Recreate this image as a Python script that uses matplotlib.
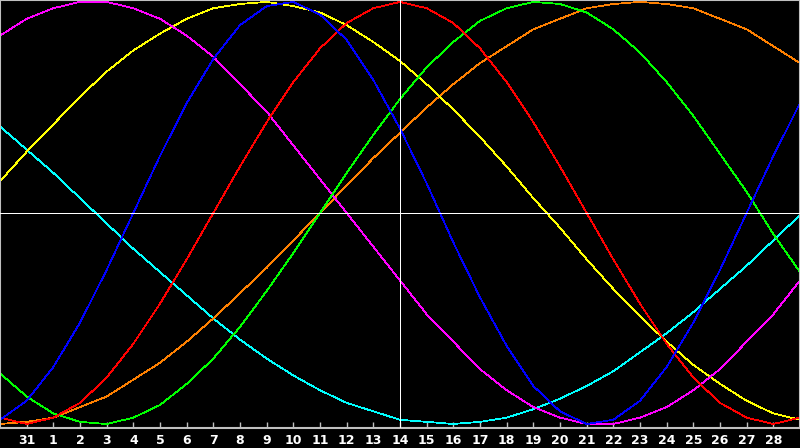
import matplotlib
matplotlib.use("Agg")
import matplotlib.pyplot as plt

# day labels (index 1..29); index 0 and 30 are the edges
day_labels = ["31"] + [str(d) for d in range(1, 29)]
days = list(range(31))
today_index = 15

blue = [-98, -89, -73, -52, -27, 0, 27, 52, 73, 89, 98, 100, 94, 82, 63, 40, 14, -14, -40, -63,
        -82, -94, -100, -98, -89, -73, -52, -27, 0, 27, 52]
red = [-97, -100, -97, -90, -78, -62, -43, -22, 0, 22, 43, 62, 78, 90, 97, 100, 97, 90, 78, 62,
       43, 22, 0, -22, -43, -62, -78, -90, -97, -100, -97]
green = [-76, -87, -95, -99, -100, -97, -91, -81, -69, -54, -37, -19, 0, 19, 37, 54, 69, 81, 91, 97,
         100, 99, 95, 87, 76, 62, 46, 28, 10, -10, -28]
orange = [-100, -99, -97, -92, -87, -79, -71, -61, -50, -38, -26, -13, 0, 13, 26, 38, 50, 61, 71, 79,
          87, 92, 97, 99, 100, 99, 97, 92, 87, 79, 71]
magenta = [84, 92, 97, 100, 100, 97, 92, 84, 74, 61, 48, 32, 16, 0, -16, -32, -48, -61, -74, -84,
           -92, -97, -100, -100, -97, -92, -84, -74, -61, -48, -32]
yellow = [15, 29, 42, 55, 67, 77, 85, 92, 97, 99, 100, 98, 95, 89, 81, 72, 61, 49, 36, 22,
          7, -7, -22, -36, -49, -61, -72, -81, -89, -95, -98]
cyan = [41, 30, 19, 7, -5, -17, -28, -39, -50, -60, -69, -77, -84, -90, -94, -98, -99, -100, -99, -97,
        -93, -88, -82, -75, -66, -57, -47, -36, -25, -13, -1]

series = [
    (cyan, "#00FFFF"),
    (orange, "#FF8000"),
    (yellow, "#FFFF00"),
    (magenta, "#FF00FF"),
    (green, "#00FF00"),
    (red, "#FF0000"),
    (blue, "#0000FF"),
]

fig = plt.figure(figsize=(8, 4.48), dpi=100, facecolor="black")
ax = fig.add_axes([0, 20 / 448, 1, 428 / 448])
ax.set_facecolor("black")

for vals, col in series:
    ax.plot(days, vals, color=col, linewidth=0.55, antialiased=False, zorder=2)

ax.axhline(0, color="white", linewidth=0.7, antialiased=False, zorder=3)
ax.axvline(today_index, color="white", linewidth=0.7, antialiased=False, zorder=3)

ax.set_xlim(0, 30)
ax.set_ylim(-101.9, 100.9)

ax.set_xticks(list(range(1, 30)))
ax.set_xticklabels(day_labels)
ax.set_yticks([])
ax.tick_params(axis="x", direction="in", length=4, width=1, color="#C0C0C0",
               labelcolor="white", labelsize=9, pad=4.5)
for lbl in ax.get_xticklabels():
    lbl.set_fontweight("bold")

for s in ax.spines.values():
    s.set_color("#C0C0C0")
    s.set_linewidth(1.5)

fig.savefig("out.png", dpi=100, facecolor="black")
